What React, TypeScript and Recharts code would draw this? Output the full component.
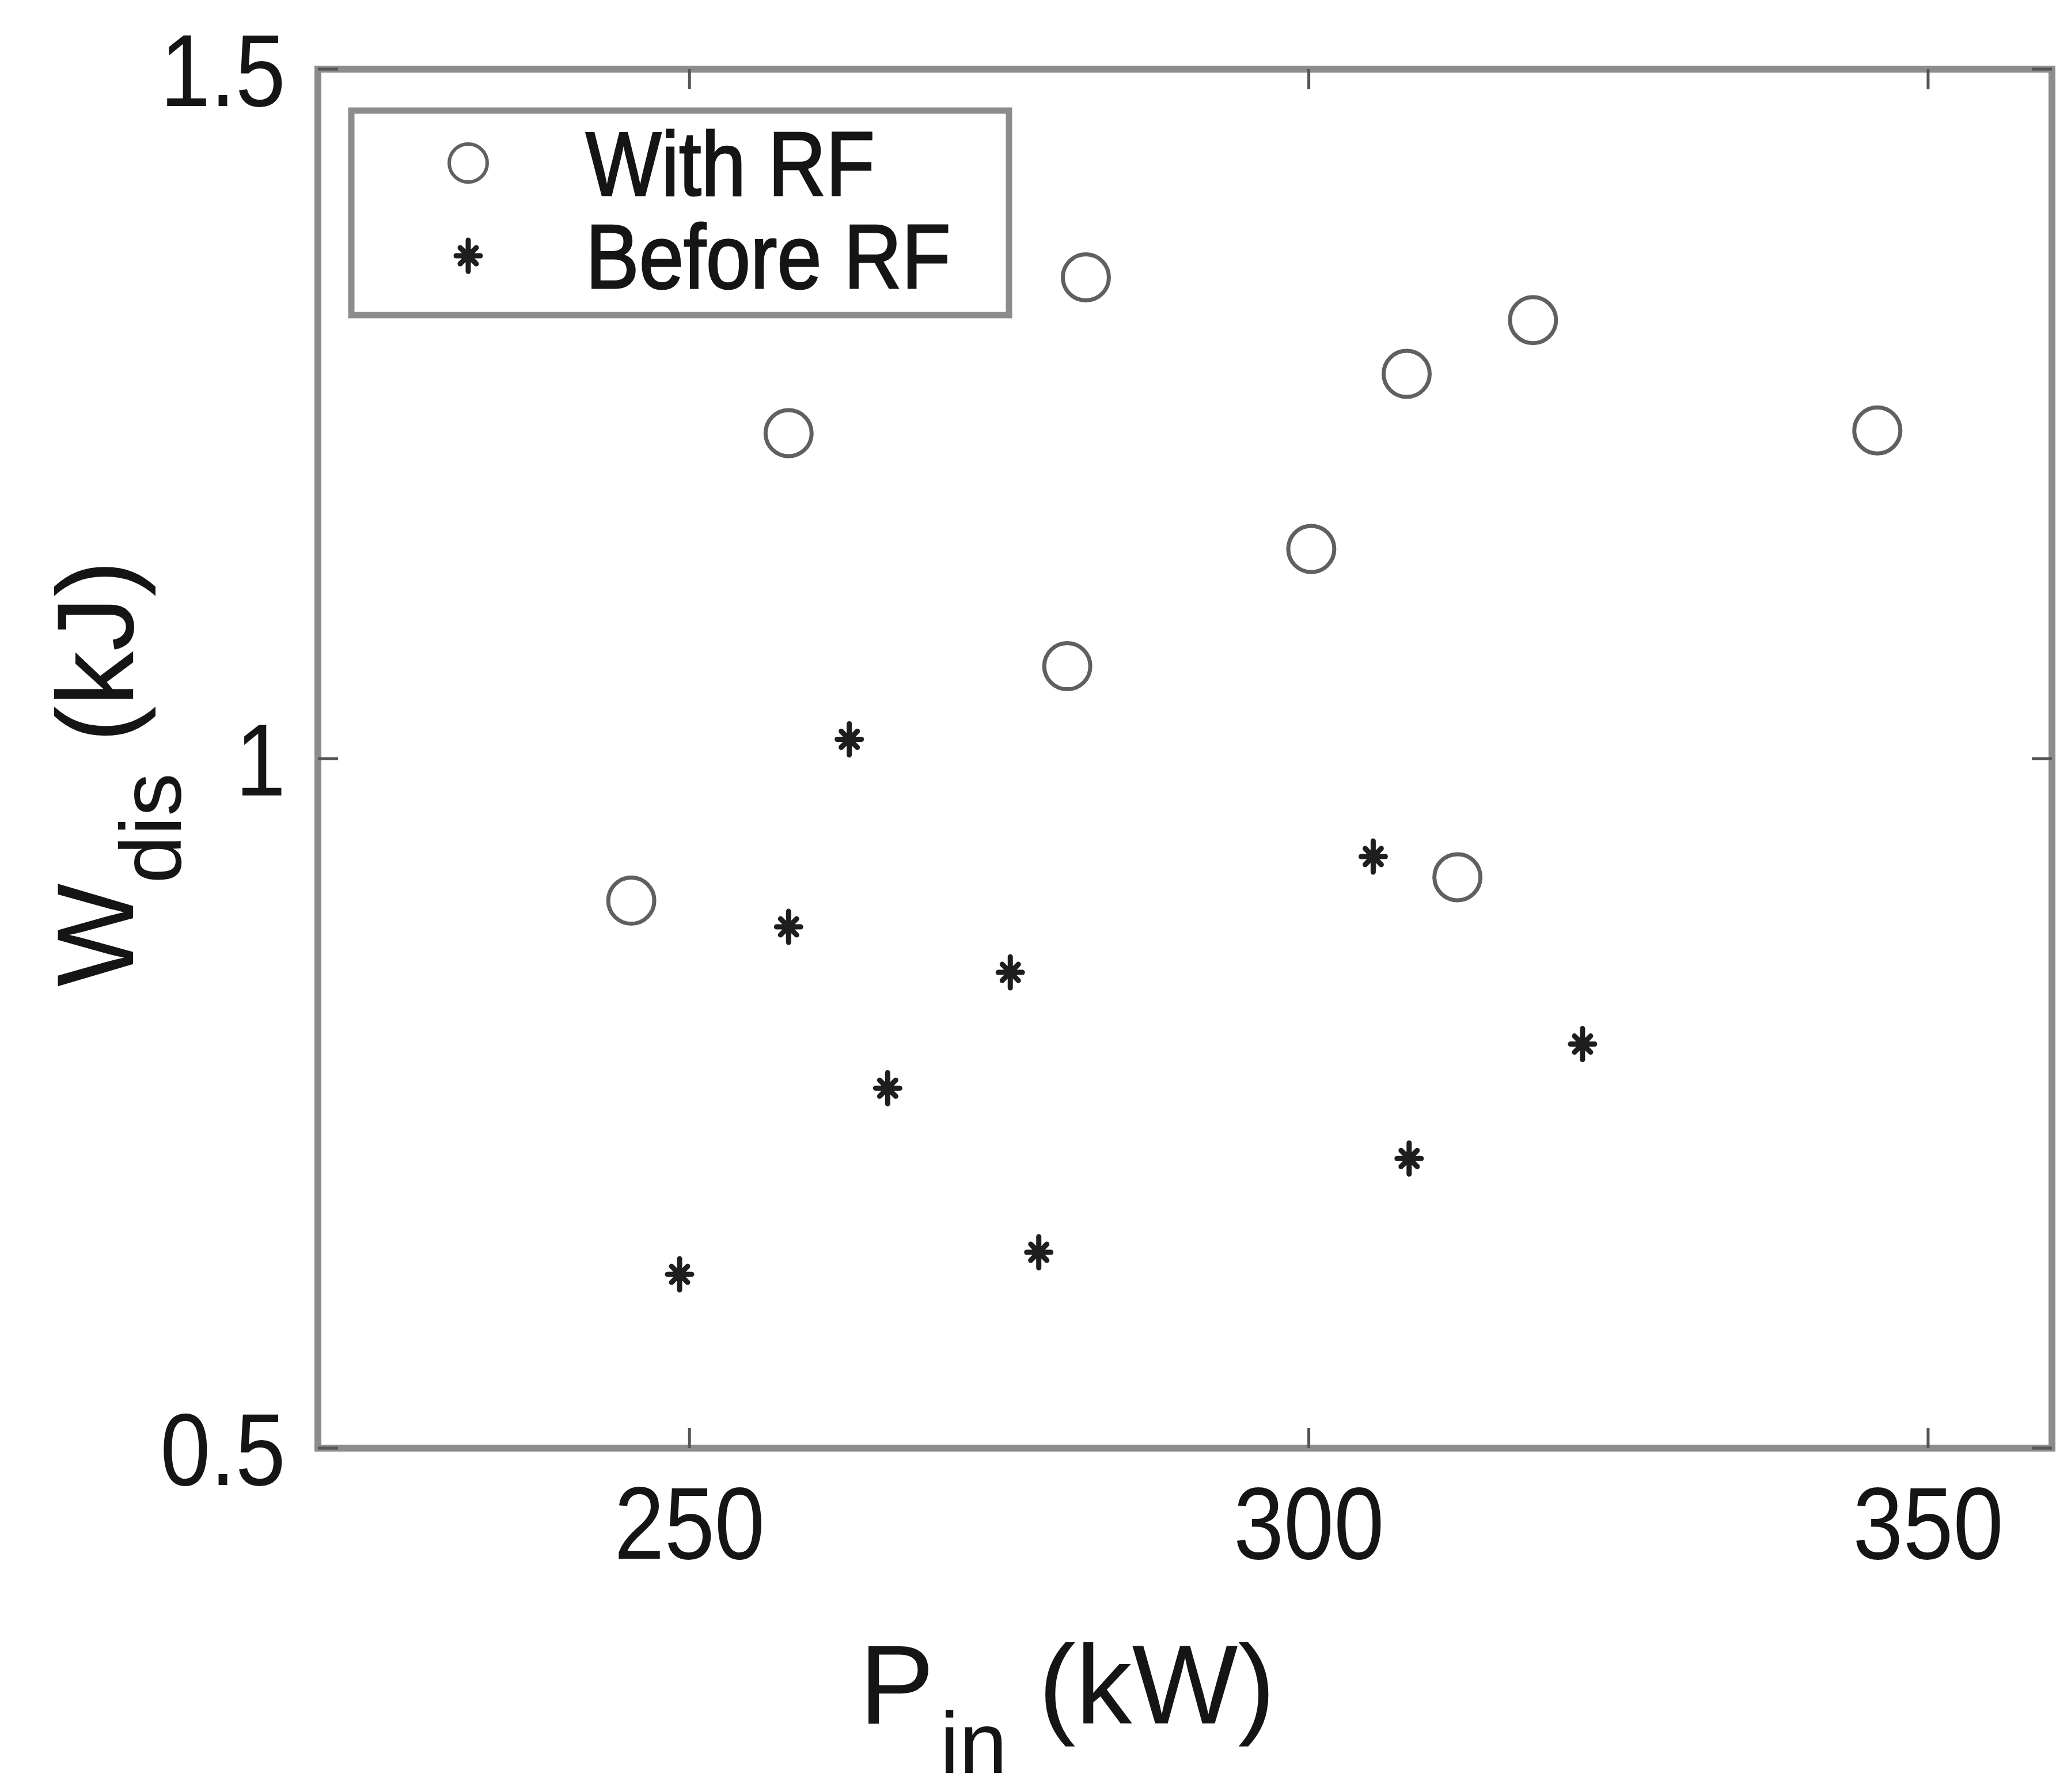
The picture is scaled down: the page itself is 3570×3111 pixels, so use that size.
import React from "react";
import { Legend, Scatter, ScatterChart, XAxis, YAxis } from "recharts";

// P_in (kW) and W_dis (kJ)
const withRfPin = [245.3, 258.0, 280.5, 282.0, 300.2, 307.9, 312.0, 318.1, 345.9];
const withRfWdis = [0.897, 1.236, 1.067, 1.349, 1.152, 1.279, 0.914, 1.318, 1.238];
const beforeRfPin = [249.2, 258.0, 262.9, 266.0, 275.9, 278.2, 305.2, 308.1, 322.1];
const beforeRfWdis = [0.626, 0.878, 1.014, 0.761, 0.845, 0.642, 0.929, 0.71, 0.793];

const xTicks = [250, 300, 350];
const yTicks = [0.5, 1, 1.5];
const xDomain = [220, 360];
const yDomain = [0.5, 1.5];

const withRf = withRfPin.map((x, i) => ({ x, y: withRfWdis[i] }));
const beforeRf = beforeRfPin.map((x, i) => ({ x, y: beforeRfWdis[i] }));

const FONT = "'Liberation Sans', Arial, sans-serif";
const NARROW = 0.88; // tick and legend type is a bit condensed in the original
const INK = "#151515";
const FRAME = "#8c8c8c";
const TICK = "#555";
const TICK_LEN = 35;
const TICK_FONT = 178;

const frameLine = { stroke: FRAME, strokeWidth: 12, strokeLinecap: "square" as const };

function Ring({ cx, cy }: any) {
  return <circle cx={cx} cy={cy} r={40} fill="none" stroke="#606060" strokeWidth={7} />;
}

function Star({ cx, cy }: any) {
  return (
    <g stroke="#1e1e1e" strokeWidth={9} strokeLinecap="round">
      <line x1={cx} x2={cx} y1={cy - 27} y2={cy + 27} />
      <line x1={cx - 21} x2={cx + 21} y1={cy} y2={cy} />
      <line x1={cx - 14} x2={cx + 14} y1={cy - 14} y2={cy + 14} />
      <line x1={cx - 14} x2={cx + 14} y1={cy + 14} y2={cy - 14} />
      <circle cx={cx} cy={cy} r={12} fill="#1e1e1e" stroke="none" />
    </g>
  );
}

function Narrow({ x, y, size, anchor = "start", scale = NARROW, bold = false, children }: any) {
  return (
    <text
      transform={`translate(${x},${y}) scale(${scale},1)`}
      textAnchor={anchor}
      fontSize={size}
      fill={INK}
      stroke={bold ? INK : "none"}
      strokeWidth={bold ? 3 : 0}
      fontFamily={FONT}
    >
      {children}
    </text>
  );
}

function BottomTick({ x, y, payload }: any) {
  return (
    <g>
      <line x1={x} x2={x} y1={y} y2={y - TICK_LEN} stroke={TICK} strokeWidth={5} />
      <Narrow x={x} y={y + 192} size={TICK_FONT} anchor="middle">
        {payload.value}
      </Narrow>
    </g>
  );
}

function TopTick({ x, y }: any) {
  return <line x1={x} x2={x} y1={y} y2={y + TICK_LEN} stroke={TICK} strokeWidth={5} />;
}

function LeftTick({ x, y, payload }: any) {
  return (
    <g>
      <line x1={x} x2={x + TICK_LEN} y1={y} y2={y} stroke={TICK} strokeWidth={5} />
      <Narrow x={x - 56} y={y + 64} size={TICK_FONT} anchor="end">
        {payload.value}
      </Narrow>
    </g>
  );
}

function RightTick({ x, y }: any) {
  return <line x1={x} x2={x - TICK_LEN} y1={y} y2={y} stroke={TICK} strokeWidth={5} />;
}

function XLabel({ viewBox }: any) {
  const x = (viewBox?.x ?? 552) + 940;
  const y = (viewBox?.y ?? 2514) + 478;
  return (
    <text x={x} y={y} fontSize={195} fill={INK} fontFamily={FONT}>
      P
      <tspan dy={86} dx={10} fontSize={150}>in</tspan>
      <tspan dy={-86} fontSize={195}> (kW)</tspan>
    </text>
  );
}

function YLabel({ viewBox }: any) {
  const x = (viewBox?.x ?? 552) - 320;
  const y = (viewBox?.y ?? 120) + 1593;
  return (
    <text
      transform={`translate(${x},${y}) rotate(-90)`}
      fontSize={190}
      fill={INK}
      fontFamily={FONT}
    >
      W
      <tspan dy={83} fontSize={150}>dis</tspan>
      <tspan dy={-83} fontSize={190}> (kJ)</tspan>
    </text>
  );
}

const legendItems = [
  { name: "With RF", marker: "ring" },
  { name: "Before RF", marker: "star" },
];

const LEGEND_W = 1154;
const LEGEND_H = 367;

function LegendBox() {
  return (
    <svg width={LEGEND_W} height={LEGEND_H} style={{ display: "block" }}>
      <rect
        x={6}
        y={6}
        width={LEGEND_W - 12}
        height={LEGEND_H - 12}
        fill="#fff"
        stroke={FRAME}
        strokeWidth={11}
      />
      {legendItems.map((item, i) => {
        const cy = 97 + i * 161;
        return (
          <g key={item.name}>
            {item.marker === "ring" ? (
              <circle cx={209} cy={cy} r={33} fill="none" stroke="#606060" strokeWidth={6} />
            ) : (
              <Star cx={209} cy={cy} />
            )}
            <Narrow x={413} y={cy + 56} size={158} bold>
              {item.name}
            </Narrow>
          </g>
        );
      })}
    </svg>
  );
}

export default function App() {
  return (
    <div style={{ position: "absolute", left: 0, top: 0, background: "#fff" }}>
      <ScatterChart
        width={3570}
        height={3111}
        margin={{ top: 119, right: 6, bottom: 596, left: 551 }}
      >
        <XAxis
          xAxisId="b"
          type="number"
          dataKey="x"
          domain={xDomain}
          ticks={xTicks}
          interval={0}
          allowDataOverflow
          height={1}
          tickSize={0}
          tickMargin={0}
          tickLine={false}
          axisLine={frameLine}
          tick={<BottomTick />}
          label={<XLabel />}
        />
        <XAxis
          xAxisId="t"
          orientation="top"
          type="number"
          dataKey="x"
          domain={xDomain}
          ticks={xTicks}
          interval={0}
          allowDataOverflow
          height={1}
          tickSize={0}
          tickMargin={0}
          tickLine={false}
          axisLine={frameLine}
          tick={<TopTick />}
        />
        <YAxis
          yAxisId="l"
          type="number"
          dataKey="y"
          domain={yDomain}
          ticks={yTicks}
          interval={0}
          allowDataOverflow
          width={1}
          tickSize={0}
          tickMargin={0}
          tickLine={false}
          axisLine={frameLine}
          tick={<LeftTick />}
          label={<YLabel />}
        />
        <YAxis
          yAxisId="r"
          orientation="right"
          type="number"
          dataKey="y"
          domain={yDomain}
          ticks={yTicks}
          interval={0}
          allowDataOverflow
          width={1}
          tickSize={0}
          tickMargin={0}
          tickLine={false}
          axisLine={frameLine}
          tick={<RightTick />}
        />
        <Legend
          layout="horizontal"
          verticalAlign="middle"
          align="center"
          wrapperStyle={{ left: 604, top: 186, width: LEGEND_W, height: LEGEND_H }}
          content={() => <LegendBox />}
        />
        <Scatter
          name="With RF"
          data={withRf}
          xAxisId="b"
          yAxisId="l"
          shape={<Ring />}
          isAnimationActive={false}
        />
        <Scatter
          name="Before RF"
          data={beforeRf}
          xAxisId="b"
          yAxisId="l"
          shape={<Star />}
          isAnimationActive={false}
        />
      </ScatterChart>
    </div>
  );
}
